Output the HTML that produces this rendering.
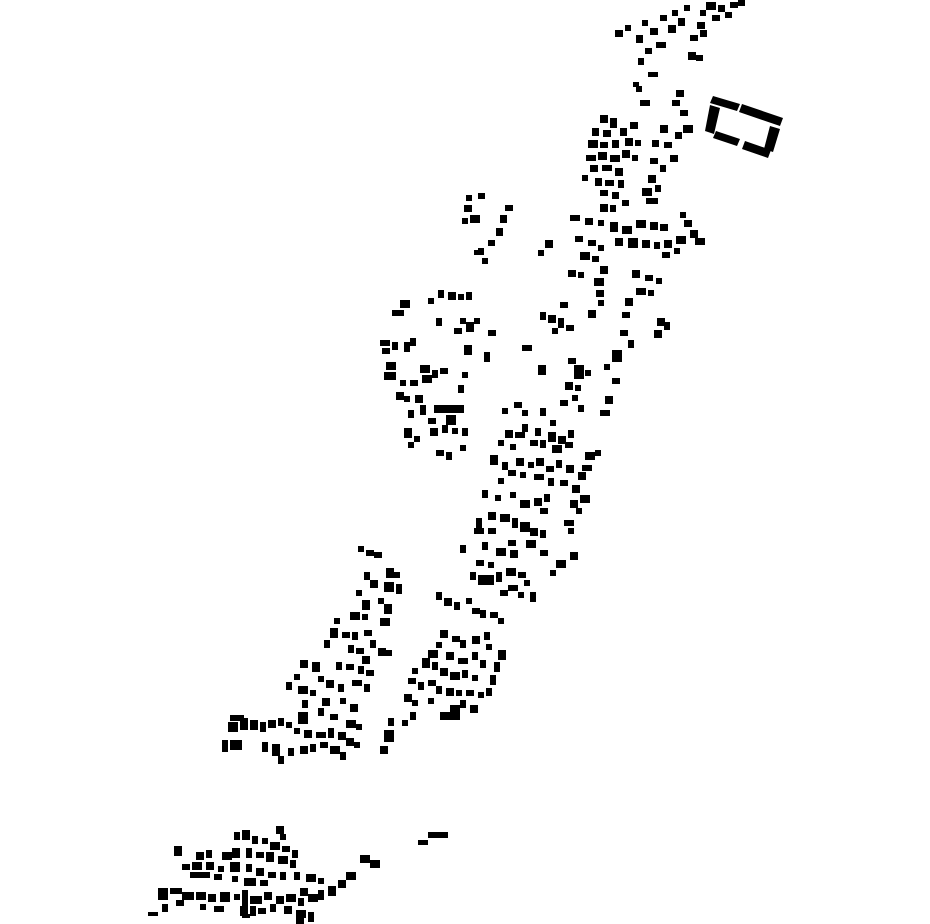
<!DOCTYPE html>
<html><head><meta charset="utf-8"><style>
html,body{margin:0;padding:0;background:#fff;width:930px;height:924px;overflow:hidden}
svg{display:block}
</style></head><body>
<svg width="930" height="924" viewBox="0 0 930 924" xmlns="http://www.w3.org/2000/svg">
<g fill="#000">
<!-- big building -->
<polygon points="713,96 740,104 737,111 710,103"/>
<polygon points="742,104 783,118 780,126 739,112"/>
<polygon points="710,105 720,108 714,134 705,131"/>
<polygon points="716,131 740,139 737,146 713,138"/>
<polygon points="745,141 771,150 768,158 742,149"/>
<polygon points="770,126 780,129 773,152 764,149"/>
<path d="
M615 30h8v7h-8z M625 25h6v6h-6z M636 35h7v8h-7z M642 20h6v6h-6z M650 28h8v7h-8z M656 42h10v6h-10z M660 15h7v6h-7z M668 25h8v8h-8z M672 10h6v6h-6z M678 18h7v8h-7z M684 5h6v6h-6z M690 35h8v6h-8z M697 22h8v7h-8z M700 10h6v6h-6z M706 2h10v8h-10z M712 15h8v6h-8z M718 5h7v7h-7z M725 12h7v6h-7z M730 2h8v6h-8z M738 0h7v6h-7z M700 30h7v7h-7z M688 52h8v8h-8z M696 55h7v6h-7z M645 48h7v6h-7z M638 58h6v7h-6z M648 72h10v5h-10z M633 82h6v5h-6z
M676 90h8v7h-8z M672 100h8v6h-8z M680 110h8v6h-8z M640 100h10v6h-10z M636 86h6v6h-6z
M600 115h8v8h-8z M610 118h7v10h-7z M592 128h7v8h-7z M603 130h8v7h-8z M588 140h10v8h-10z M600 142h8v6h-8z M612 140h7v8h-7z M620 128h7v8h-7z M630 122h8v7h-8z M625 138h8v8h-8z M635 140h6v6h-6z M586 155h10v6h-10z M598 152h9v8h-9z M610 155h10v7h-10z M622 150h8v8h-8z M632 155h6v6h-6z M590 165h8v7h-8z M602 165h10v6h-10z M615 168h8v8h-8z M595 178h7v8h-7z M605 180h9v6h-9z M618 180h6v8h-6z M582 175h6v6h-6z M600 190h8v6h-8z M612 192h7v7h-7z M622 200h7v6h-7z M600 204h8v8h-8z M610 205h6v7h-6z M660 125h8v8h-8z M652 140h7v7h-7z M664 142h8v6h-8z M670 155h8v7h-8z M650 158h8v6h-8z M660 165h6v7h-6z M648 175h8v8h-8z M642 188h10v8h-10z M655 185h6v7h-6z M646 198h12v6h-12z M683 125h10v8h-10z M675 132h7v7h-7z
M570 215h10v6h-10z M585 218h8v7h-8z M598 220h6v6h-6z M610 222h8v10h-8z M622 226h10v8h-10z M636 220h10v8h-10z M650 222h8v8h-8z M660 224h8v7h-8z M615 238h8v8h-8z M628 238h10v10h-10z M642 240h8v8h-8z M654 242h6v7h-6z M664 240h8v8h-8z M676 236h10v8h-10z M690 230h8v8h-8z M684 220h8v7h-8z M695 238h10v7h-10z M680 212h6v6h-6z M575 236h8v6h-8z M588 240h8v6h-8z M598 245h6v6h-6z M580 252h10v8h-10z M592 256h7v6h-7z M662 252h8v6h-8z M674 248h6v6h-6z
M466 195h6v6h-6z M478 193h7v6h-7z M464 205h8v7h-8z M470 215h10v8h-10z M462 218h6v6h-6z M505 205h8v6h-8z M500 215h7v8h-7z M496 228h7v8h-7z M488 240h7v6h-7z M478 248h6v7h-6z M482 258h6v6h-6z M474 250h5v5h-5z M545 240h8v8h-8z M538 250h6v6h-6z
M568 270h8v7h-8z M578 272h6v6h-6z M600 266h8v8h-8z M594 278h10v8h-10z M596 290h8v7h-8z M598 300h6v6h-6z M632 270h8v8h-8z M645 275h8v6h-8z M656 278h6v6h-6z M636 288h10v7h-10z M648 290h6v6h-6z M625 298h8v8h-8z M622 312h8v6h-8z M657 318h8v8h-8z M664 322h6v8h-6z M654 330h8v8h-8z M620 330h8v6h-8z M628 340h6v8h-6z M612 350h10v12h-10z M604 364h6v6h-6z M612 378h8v6h-8z M605 396h8v8h-8z M600 410h10v6h-10z M560 302h8v6h-8z M548 315h8v8h-8z M558 318h6v10h-6z M566 325h8v6h-8z M540 312h6v8h-6z M552 328h6v6h-6z M588 310h8v8h-8z M522 345h10v6h-10z M538 365h8v10h-8z M568 358h8v6h-8z M574 365h10v14h-10z M585 370h6v6h-6z M565 382h8v8h-8z M572 395h6v6h-6z M578 405h6v7h-6z M560 400h8v6h-8z M575 385h6v6h-6z
M400 300h10v8h-10z M392 310h12v6h-12z M428 298h6v6h-6z M438 290h6v8h-6z M448 292h8v8h-8z M458 294h6v6h-6z M466 292h6v8h-6z M436 318h6v8h-6z M460 318h6v6h-6z M466 322h8v10h-8z M474 318h6v6h-6z M454 328h8v6h-8z M488 330h8v6h-8z M380 340h10v6h-10z M382 348h8v6h-8z M392 342h6v8h-6z M404 342h6v10h-6z M410 338h6v8h-6z M464 345h8v10h-8z M484 352h6v10h-6z M386 362h10v8h-10z M384 372h12v8h-12z M420 365h10v8h-10z M432 370h6v8h-6z M440 368h8v6h-8z M422 375h10v8h-10z M410 380h8v6h-8z M400 380h6v6h-6z M396 392h8v8h-8z M404 396h6v6h-6z M415 395h8v8h-8z M458 385h6v8h-6z M462 372h6v6h-6z M420 405h6v10h-6z M434 405h30v8h-30z M446 415h10v10h-10z M428 418h8v6h-8z M408 410h6v8h-6z M404 428h8v10h-8z M414 436h6v6h-6z M430 428h8v8h-8z M442 425h6v8h-6z M452 428h6v6h-6z M462 428h6v8h-6z M436 450h8v6h-8z M446 452h6v8h-6z M460 445h6v6h-6z M408 442h6v6h-6z
M502 408h6v6h-6z M514 402h8v6h-8z M522 410h6v6h-6z M540 408h6v8h-6z M550 420h6v6h-6z M505 430h8v8h-8z M515 432h10v6h-10z M522 424h6v8h-6z M535 428h6v8h-6z M548 432h8v10h-8z M558 436h8v8h-8z M568 430h6v8h-6z M498 440h6v6h-6z M510 444h6v6h-6z M530 440h8v6h-8z M540 440h6v8h-6z M552 445h10v8h-10z M565 442h8v6h-8z M490 455h8v10h-8z M502 462h6v8h-6z M516 458h8v8h-8z M528 462h6v6h-6z M536 458h8v8h-8z M546 466h8v6h-8z M556 460h6v8h-6z M566 465h8v8h-8z M585 452h10v8h-10z M595 450h6v6h-6z M582 465h10v6h-10z M578 472h8v8h-8z M508 470h8v6h-8z M520 472h6v6h-6z M534 474h10v6h-10z M548 478h6v8h-6z M560 480h8v6h-8z M498 478h6v6h-6z M572 485h8v8h-8z M580 495h10v8h-10z M570 500h8v8h-8z M576 508h6v6h-6z M564 520h10v6h-10z M568 528h6v6h-6z M482 490h6v8h-6z M495 495h6v6h-6z M510 492h6v6h-6z M520 500h10v8h-10z M534 498h8v8h-8z M544 494h6v8h-6z M540 508h8v6h-8z M488 512h8v8h-8z M500 514h10v8h-10z M512 518h6v10h-6z M476 518h6v10h-6z M474 528h10v6h-10z M488 528h8v6h-8z M520 522h10v10h-10z M530 528h8v8h-8z M540 530h6v8h-6z M526 540h10v8h-10z M508 540h8v6h-8z M482 542h6v8h-6z M460 545h6v8h-6z M496 548h10v8h-10z M510 550h8v8h-8z M540 550h8v6h-8z M570 552h8v8h-8z M556 560h10v8h-10z M550 570h6v6h-6z M476 560h8v6h-8z M488 562h6v6h-6z M470 572h6v8h-6z M478 575h16v10h-16z M496 572h6v10h-6z M506 568h10v8h-10z M518 572h8v6h-8z M524 580h6v6h-6z M508 585h10v6h-10z M518 592h6v6h-6z M530 592h6v10h-6z M500 590h8v6h-8z
M436 592h6v8h-6z M444 598h8v8h-8z M454 602h6v8h-6z M466 598h6v6h-6z M472 608h8v6h-8z M480 610h6v8h-6z M490 612h8v6h-8z M498 618h6v6h-6z M440 630h8v8h-8z M436 642h6v6h-6z M452 636h8v6h-8z M460 640h6v8h-6z M472 636h8v8h-8z M484 632h6v8h-6z M486 644h6v6h-6z M428 650h10v8h-10z M422 658h8v10h-8z M432 662h6v8h-6z M446 652h8v8h-8z M458 658h10v6h-10z M472 652h6v8h-6z M480 660h6v8h-6z M498 650h8v10h-8z M494 662h6v10h-6z M490 675h6v10h-6z M486 688h6v8h-6z M412 668h6v6h-6z M440 668h8v8h-8z M450 672h10v8h-10z M462 670h6v8h-6z M472 675h6v6h-6z M408 678h8v6h-8z M418 682h6v8h-6z M428 680h8v6h-8z M436 686h6v8h-6z M446 688h8v8h-8z M456 690h6v6h-6z M466 690h8v6h-8z M478 692h6v6h-6z M404 694h8v8h-8z M412 700h6v6h-6z M428 698h6v6h-6z M460 700h6v8h-6z M470 705h8v8h-8z M450 705h10v8h-10z M440 712h20v8h-20z M410 712h6v8h-6z M402 720h6v6h-6z M388 718h6v8h-6z M384 730h10v12h-10z M380 746h8v8h-8z
M358 546h6v6h-6z M366 550h8v6h-8z M374 552h8v6h-8z M386 568h8v10h-8z M394 572h6v6h-6z M364 572h6v8h-6z M370 580h8v8h-8z M384 582h10v10h-10z M396 584h6v10h-6z M356 590h6v6h-6z M362 600h8v10h-8z M378 598h6v6h-6z M384 604h8v10h-8z M350 612h10v8h-10z M362 614h6v6h-6z M380 618h10v8h-10z M334 618h6v6h-6z M330 628h8v10h-8z M342 632h8v6h-8z M352 632h6v8h-6z M364 630h8v6h-8z M370 640h6v8h-6z M378 648h8v8h-8z M386 650h6v6h-6z M324 640h6v8h-6z M348 645h6v8h-6z M356 648h8v6h-8z M362 656h8v8h-8z M300 660h8v8h-8z M312 662h8v10h-8z M336 662h6v8h-6z M346 664h8v6h-8z M358 666h6v8h-6z M366 670h8v6h-8z M294 674h6v6h-6z M286 682h6v8h-6z M298 686h10v8h-10z M318 676h6v6h-6z M326 680h8v8h-8z M338 684h6v8h-6z M352 680h10v6h-10z M364 684h6v8h-6z M310 690h6v6h-6z M322 698h8v8h-8z M302 700h6v8h-6z M340 698h6v6h-6z M350 704h8v8h-8z M298 712h10v12h-10z M318 708h6v8h-6z M330 714h8v6h-8z M230 715h14v6h-14z M228 722h10v10h-10z M240 718h8v12h-8z M250 720h8v10h-8z M260 722h6v10h-6z M268 720h8v8h-8z M278 718h6v8h-6z M286 722h6v6h-6z M294 728h6v6h-6z M304 730h8v8h-8z M316 732h10v6h-10z M328 728h6v10h-6z M338 732h8v8h-8z M346 720h10v8h-10z M356 724h6v6h-6z M222 740h6v12h-6z M230 740h12v10h-12z M262 742h6v10h-6z M272 744h8v12h-8z M278 756h6v8h-6z M300 746h8v8h-8z M310 744h6v8h-6z M320 742h8v6h-8z M330 746h10v8h-10z M340 752h6v8h-6z M346 738h8v8h-8z M354 742h6v6h-6z M288 748h6v8h-6z
M418 840h10v5h-10z M428 832h20v6h-20z M360 855h10v8h-10z M370 860h10v8h-10z M346 872h10v8h-10z M338 880h8v8h-8z M328 886h8v10h-8z M318 890h6v10h-6z M308 894h10v8h-10z M300 888h8v8h-8z
M276 826h8v8h-8z M280 834h6v6h-6z M234 832h6v8h-6z M242 830h8v10h-8z M252 836h6v8h-6z M262 838h6v6h-6z M270 842h10v8h-10z M282 846h8v6h-8z M292 850h6v8h-6z M174 846h8v10h-8z M196 852h8v8h-8z M206 850h6v8h-6z M222 852h10v8h-10z M232 848h8v10h-8z M246 848h6v10h-6z M256 852h8v6h-8z M266 852h8v10h-8z M278 856h10v8h-10z M290 860h6v8h-6z M182 864h8v6h-8z M192 862h10v8h-10z M206 862h8v8h-8z M218 866h6v6h-6z M230 862h10v10h-10z M246 864h6v8h-6z M256 868h8v8h-8z M268 872h8v6h-8z M280 872h6v8h-6z M190 872h20v6h-20z M214 874h8v6h-8z M232 876h6v6h-6z M244 878h12v8h-12z M260 880h8v6h-8z M294 872h6v8h-6z M306 874h10v8h-10z M318 878h6v6h-6z M158 888h10v12h-10z M170 888h12v6h-12z M182 892h12v8h-12z M196 892h10v8h-10z M208 894h8v8h-8z M220 892h10v10h-10z M234 894h6v6h-6z M242 890h6v16h-6z M250 896h12v8h-12z M264 892h8v8h-8z M276 896h8v8h-8z M286 894h10v8h-10z M298 898h6v8h-6z M162 904h6v8h-6z M176 900h8v6h-8z M200 904h6v6h-6z M214 906h10v6h-10z M240 906h8v10h-8z M250 906h6v10h-6z M258 908h8v6h-8z M270 904h6v8h-6z M284 906h8v8h-8z M296 910h10v8h-10z M308 912h6v10h-6z M148 912h10v4h-10z M242 914h8v4h-8z M296 918h8v6h-8z
"/>
</g>
</svg>
</body></html>
